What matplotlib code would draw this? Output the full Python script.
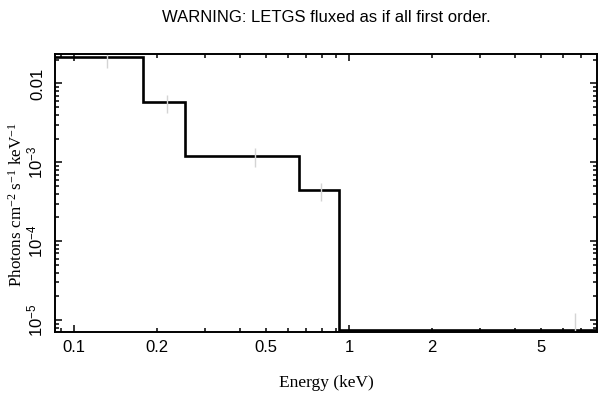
import matplotlib
matplotlib.use("Agg")
from matplotlib import pyplot as plt
from matplotlib.ticker import FixedLocator, FixedFormatter, NullFormatter

# bin edges (keV) and fluxed values
edges = [0.08, 0.1786, 0.254, 0.658, 0.922, 8.5]
flux = [0.0215, 0.00578, 0.00121, 0.00044, 7.47e-6]

# grey error bars: energy, low, high
err_x = [0.132, 0.217, 0.456, 0.791, 6.65]
err_lo = [0.0157, 0.00424, 0.00087, 0.000319, 5.0e-6]
err_hi = [0.0273, 0.00715, 0.00151, 0.000546, 1.24e-5]

x_major = [0.1, 1]
x_minor = [0.09, 0.2, 0.3, 0.4, 0.5, 0.6, 0.7, 0.8, 0.9, 2, 3, 4, 5, 6, 7]
x_minor_labels = ["", "0.2", "", "", "0.5", "", "", "", "", "2", "", "", "5", "", ""]
y_major = [1e-5, 1e-4, 1e-3, 1e-2]
y_labels = [r"$\mathsf{10^{-5}}$", r"$\mathsf{10^{-4}}$", r"$\mathsf{10^{-3}}$", "0.01"]

plt.rcParams["font.family"] = ["Liberation Sans", "DejaVu Sans"]
plt.rcParams["mathtext.fontset"] = "custom"
plt.rcParams["mathtext.rm"] = "Liberation Serif"
plt.rcParams["mathtext.it"] = "Liberation Serif:italic"
plt.rcParams["mathtext.sf"] = "Liberation Sans"

fig = plt.figure(figsize=(6.09, 3.98), dpi=100)
ax = fig.add_axes([0.0911, 0.1658, 0.8892, 0.6985])

ax.set_xscale("log")
ax.set_yscale("log")
ax.set_xlim(0.0856, 7.98)
ax.set_ylim(7.05e-6, 0.0236)

# error bars first, then the step on top
ax.vlines(err_x, err_lo, err_hi, color="#d4d4d4", linewidth=1)
ax.stairs(flux, edges, color="black", linewidth=1.9, baseline=None)

ax.xaxis.set_major_locator(FixedLocator(x_major))
ax.xaxis.set_major_formatter(FixedFormatter(["0.1", "1"]))
ax.xaxis.set_minor_locator(FixedLocator(x_minor))
ax.xaxis.set_minor_formatter(FixedFormatter(x_minor_labels))

ax.yaxis.set_major_locator(FixedLocator(y_major))
ax.yaxis.set_major_formatter(FixedFormatter(y_labels))
ax.yaxis.set_minor_locator(FixedLocator([m * d for d in [1e-6, 1e-5, 1e-4, 1e-3, 1e-2] for m in range(2, 10)]))
ax.yaxis.set_minor_formatter(NullFormatter())

ax.tick_params(which="both", direction="in", top=True, right=True, labelsize=12, width=1.1)
ax.tick_params(which="major", length=5)
ax.tick_params(which="minor", length=3)
ax.tick_params(axis="x", which="both", pad=6)
ax.tick_params(axis="y", which="both", pad=7)
for lab in ax.get_yticklabels():
    lab.set_rotation(90)
    lab.set_va("center")

for s in ax.spines.values():
    s.set_linewidth(1.4)

ax.set_xlabel("Energy (keV)", family="Liberation Serif", fontsize=12.5, labelpad=14)
ax.set_ylabel(r"Photons cm$^{-2}$ s$^{-1}$ keV$^{-1}$", family="Liberation Serif", fontsize=12.3)
ax.yaxis.set_label_coords(-0.055, 0.46)

fig.text(0.5355, 0.955, "WARNING: LETGS fluxed as if all first order.", ha="center", va="center", fontsize=12)

fig.savefig("out.png", dpi=100)
